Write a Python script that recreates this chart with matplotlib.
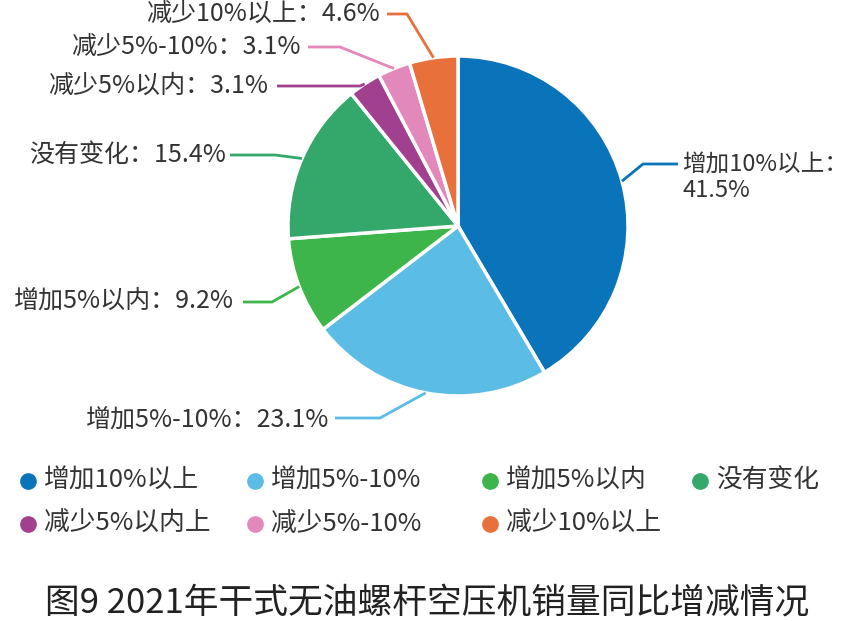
import matplotlib
matplotlib.use("Agg")
import matplotlib.pyplot as plt
import numpy as np
from matplotlib.lines import Line2D

plt.rcParams['font.family'] = ['Noto Sans CJK SC', 'DejaVu Sans']

# ---- data ----
categories = ["增加10%以上", "增加5%-10%", "增加5%以内", "没有变化",
              "减少5%以内", "减少5%-10%", "减少10%以上"]
legend_labels = ["增加10%以上", "增加5%-10%", "增加5%以内", "没有变化",
                 "减少5%以内上", "减少5%-10%", "减少10%以上"]
values = [41.5, 23.1, 9.2, 15.4, 3.1, 3.1, 4.6]
colors = ["#0a74bb", "#5bbce6", "#3db54a", "#33a86a", "#a1408f", "#e388bb", "#e8703a"]
title = "图9 2021年干式无油螺杆空压机销量同比增减情况"

W, H = 854, 621
fig = plt.figure(figsize=(W / 100, H / 100), dpi=100)
fig.patch.set_facecolor("white")

cx, cy, R = 458, 226, 170  # pixel layout of pie
half = 175
ax = fig.add_axes([(cx - half) / W, (H - cy - half) / H, 2 * half / W, 2 * half / H])

wedges, _ = ax.pie(values, colors=colors, startangle=90, counterclock=False,
                   radius=1.0, wedgeprops=dict(edgecolor="white", linewidth=2.5))
ax.set_xlim(-half / R, half / R)
ax.set_ylim(-half / R, half / R)
ax.set_aspect("equal")
ax.axis("off")

def px(x, y):
    return ((x - cx) / R, (cy - y) / R)

# label layout: (elbow px, end px, text px, ha)
layout = [
    ((643, 164), (678, 164), (682, 178), "left"),
    ((380, 418), (335, 418), (329, 420), "right"),
    ((272, 302), (243, 302), (234, 301), "right"),
    ((275, 155), (230, 155), (226, 155), "right"),
    ((360, 86), (277, 86), (268, 86), "right"),
    ((340, 47), (308, 47), (301, 47), "right"),
    ((407, 14), (387, 14), (380, 14), "right"),
]

for i, (w, v, cat) in enumerate(zip(wedges, values, categories)):
    ang = np.deg2rad((w.theta1 + w.theta2) / 2)
    sx, sy = np.cos(ang), np.sin(ang)
    elbow, end, tpos, ha = layout[i]
    ex, ey = px(*elbow)
    nx, ny = px(*end)
    ax.plot([sx, ex, nx], [sy, ey, ny], color=colors[i], lw=2.0, clip_on=False,
            solid_capstyle="butt", zorder=5)
    tx, ty = px(*tpos)
    if i == 0:
        txt = f"{cat}：\n{v}%"
        fs = 17
    else:
        txt = f"{cat}：{v}%"
        fs = 18
    ax.text(tx, ty, txt, ha=ha, va="center", fontsize=fs, color="#333333",
            linespacing=1.15, clip_on=False)

# legend
leg_pos = [(28, 481), (255, 481), (490, 481), (700, 481),
           (28, 524), (255, 524), (490, 524)]
for (lx, ly), lab, col in zip(leg_pos, legend_labels, colors):
    fig.add_artist(Line2D([lx / W], [1 - ly / H], marker="o", markersize=11,
                          color=col, linestyle="none", transform=fig.transFigure))
    fig.text((lx + 16) / W, 1 - ly / H, lab, ha="left", va="center",
             fontsize=18.5, color="#333333")

fig.text(0.5, 1 - 603 / H, title, ha="center", va="center", fontsize=25,
         color="#222222")

fig.savefig("out.png", dpi=100, facecolor="white")
